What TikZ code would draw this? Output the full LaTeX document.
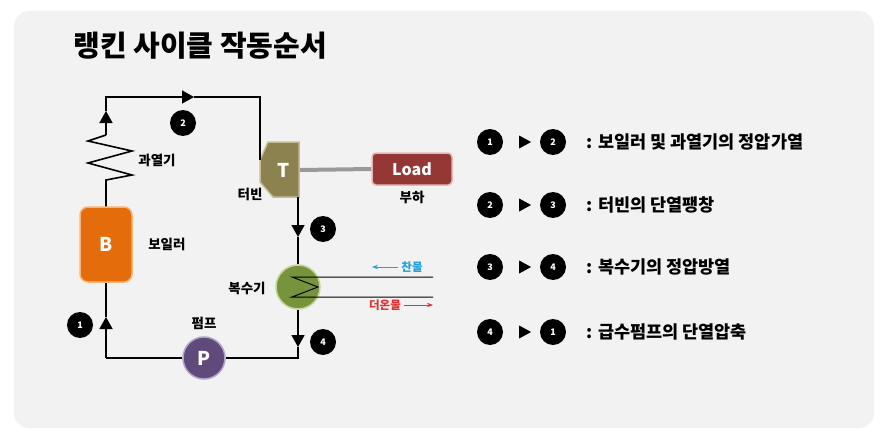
\documentclass[tikz,border=0pt]{standalone}
\usepackage{fontspec}
\setmainfont{Noto Sans CJK KR}
\usepackage{xcolor}
\usetikzlibrary{arrows.meta, positioning, shapes.geometric}

\definecolor{panel}{HTML}{F2F2F2}
\definecolor{boilerc}{HTML}{E46C0A}
\definecolor{boilerl}{HTML}{F9B47A}
\definecolor{turbc}{HTML}{8C8250}
\definecolor{turbl}{HTML}{C4BD97}
\definecolor{loadc}{HTML}{953735}
\definecolor{loadl}{HTML}{E6B9B8}
\definecolor{condc}{HTML}{77933C}
\definecolor{condl}{HTML}{C3D69B}
\definecolor{pumpc}{HTML}{604A7B}
\definecolor{pumpl}{HTML}{B3A2C7}
\definecolor{coldc}{HTML}{21A0DB}
\definecolor{hotc}{HTML}{E03030}
\definecolor{shaft}{HTML}{999999}

\begin{document}
\begin{tikzpicture}[x=1pt, y=-1pt,
  flow/.style={line width=1.6pt},
  arr/.style={line width=1.6pt, -{Triangle[width=13pt,length=12pt]}},
  num/.style={circle, fill=black, minimum size=26pt, inner sep=0pt, text=white, font=\bfseries\fontsize{9}{9}\selectfont},
  lbl/.style={font=\bfseries\fontsize{13.5}{13.5}\selectfont},
  part/.style={text=white, font=\bfseries\fontsize{19}{19}\selectfont, inner sep=0pt},
  item/.style={anchor=west, font=\bfseries\fontsize{17.5}{17.5}\selectfont},
  tri/.style={isosceles triangle, isosceles triangle stretches, fill=black, inner sep=0pt, minimum width=13pt, minimum height=12pt}
]
\useasboundingbox (0,0) rectangle (895,444);
\fill[panel, rounded corners=15pt] (14,11) rectangle (874,428);

% title
\node[anchor=west, font=\bfseries\fontsize{29}{29}\selectfont] (title) at (70,46) {랭킨 사이클 작동순서};

% corners of the loop
\coordinate (bl) at (106,358);
\coordinate (tl) at (106,97);
\coordinate (tr) at (260,97);
\coordinate (br) at (298,358);
\coordinate (hb) at (106,180);
\coordinate (ht) at (106,135);
\coordinate (tin) at (260,160);
\coordinate (tout) at (298,197);
\coordinate (a1) at (106,317);
\coordinate (a2) at (106,111);
\coordinate (a3) at (194,97);
\coordinate (a4) at (298,237);
\coordinate (a5) at (298,347);

% turbine
\filldraw[fill=turbc, draw=turbl, line width=1.5pt] (268,142) -- (299,142) -- (299,197) -- (273,197) -- (260,182) -- (260,160) -- cycle;
\node[part] (turb) at (284,170) {T};

% load
\node[draw=loadl, fill=loadc, line width=1.5pt, rounded corners=4pt, minimum width=80pt, minimum height=32pt, text=white, font=\bfseries\fontsize{16}{16}\selectfont] (load) at (412,169) {Load};
\draw[shaft, line width=4pt] (300,170) -- (load.west);
\node[lbl, below=2pt of load] (loadlbl) {부하};
\node[lbl] (turblbl) at (250,194) {터빈};

% boiler, pump, condenser
\node[part, draw=boilerl, fill=boilerc, line width=1.5pt, rounded corners=8pt, minimum width=52pt, minimum height=75pt] (boiler) at (106,244.5) {B};
\node[lbl, right=12pt of boiler] (boilerlbl) {보일러};
\node[part, circle, draw=pumpl, fill=pumpc, line width=1.5pt, minimum size=42pt] (pump) at (204,358) {P};
\node[lbl] (pumplbl) at (204,323) {펌프};
\node[circle, draw=condl, fill=condc, line width=1.5pt, minimum size=44pt, inner sep=0pt] (cond) at (298,287) {};
\node[lbl] (condlbl) at (247,288) {복수기};
\node[lbl] (heatlbl) at (157,160) {과열기};

% loop
\draw[arr] (bl) -- (a1);
\draw[flow] (a1) -- (boiler.south);
\draw[flow] (boiler.north) -- (hb) -- (132,175) -- (88,163) -- (132,151) -- (88,141) -- (ht);
\draw[arr] (ht) -- (a2);
\draw[arr] (a2) -- (tl) -- (a3);
\draw[flow] (a3) -- (tr) -- (tin);
\draw[arr] (tout) -- (a4);
\draw[flow] (a4) -- (cond.north);
\draw[arr] (cond.south) -- (a5);
\draw[flow] (a5) -- (br) -- (pump.east);
\draw[flow] (pump.west) -- (bl);

% cooling water
\draw[line width=1pt] (433,277) -- (292,277) -- (318,287) -- (292,297) -- (433,297);
\node[text=coldc, font=\bfseries\fontsize{11.5}{11.5}\selectfont] (cold) at (412,267) {찬물};
\draw[coldc, line width=1pt, -{Stealth[length=6pt]}] (cold.west) -- (372,267);
\node[text=hotc, font=\bfseries\fontsize{11.5}{11.5}\selectfont] (hot) at (385,305) {더온물};
\draw[hotc, line width=1pt, -{Stealth[length=6pt]}] (hot.east) -- (433,305);

% state numbers
\node[num] (s1) at (80,325) {1};
\node[num] (s2) at (183,123) {2};
\node[num] (s3) at (323,229) {3};
\node[num] (s4) at (323,342) {4};

% process list
\node[num] (p1a) at (490,142) {1};
\node[tri] (p1t) at (523,142) {};
\node[num] (p1b) at (553,142) {2};
\node[item] (p1) at (583,142) {: 보일러 및 과열기의 정압가열};

\node[num] (p2a) at (490,205) {2};
\node[tri] (p2t) at (523,205) {};
\node[num] (p2b) at (553,205) {3};
\node[item] (p2) at (583,205) {: 터빈의 단열팽창};

\node[num] (p3a) at (490,267) {3};
\node[tri] (p3t) at (523,267) {};
\node[num] (p3b) at (553,267) {4};
\node[item] (p3) at (583,267) {: 복수기의 정압방열};

\node[num] (p4a) at (490,332) {4};
\node[tri] (p4t) at (523,332) {};
\node[num] (p4b) at (553,332) {1};
\node[item] (p4) at (583,332) {: 급수펌프의 단열압축};
\end{tikzpicture}
\end{document}
